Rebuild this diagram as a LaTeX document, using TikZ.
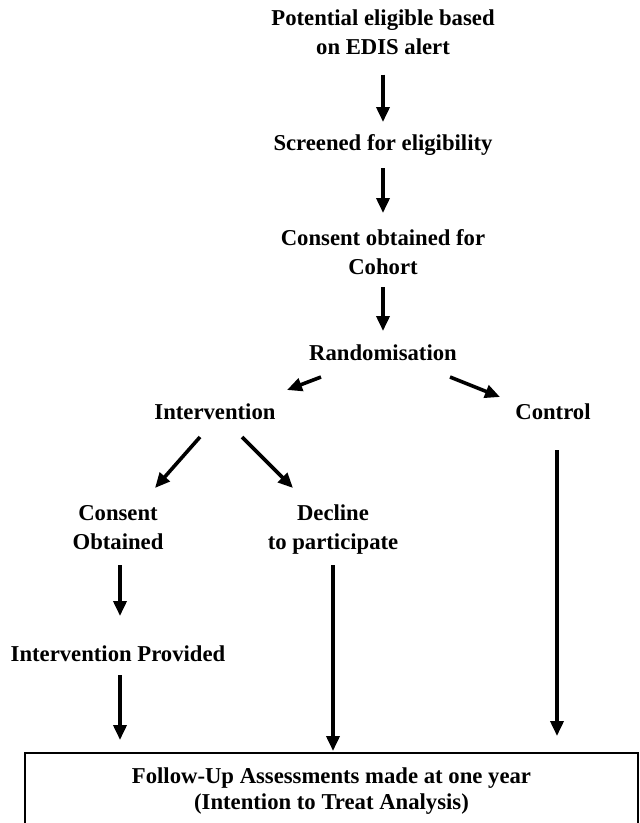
\documentclass[tikz,border=0pt]{standalone}
\usepackage{fontspec}
\setmainfont{Liberation Serif}
\usetikzlibrary{arrows.meta}
\begin{document}
\begin{tikzpicture}[x=1pt,y=-1pt,
  lbl/.style={font=\bfseries\fontsize{22.7}{29}\selectfont, align=center, inner sep=0pt},
  arr/.style={line width=3.6pt, -{Triangle[length=15pt,width=13pt]}},
  ]
\useasboundingbox (0,0) rectangle (640,823);
\fill[white] (0,0) rectangle (640,823);
\node[lbl] (n1) at (383,32.5) {Potential eligible based\\on EDIS alert};
\node[lbl] (n2) at (383,145) {Screened for eligibility};
\node[lbl] (n3) at (383,252) {Consent obtained for\\Cohort};
\node[lbl] (n4) at (383,353) {Randomisation};
\node[lbl] (n5) at (215,412) {Intervention};
\node[lbl] (n6) at (553,412) {Control};
\node[lbl] (n7) at (118,528) {Consent\\Obtained};
\node[lbl] (n8) at (333,530) {Decline\\to participate};
\node[lbl] (n9) at (118,654) {Intervention Provided};
\node[lbl, font=\bfseries\fontsize{22.7}{26}\selectfont, draw, line width=1.3pt, minimum width=613pt, minimum height=76pt] (box) at (331.5,791) {Follow-Up Assessments made at one year\\(Intention to Treat Analysis)};

\draw[arr] ([shift={(0,42)}]n1.center) -- ([shift={(0,-23)}]n2.center);
\draw[arr] ([shift={(0,23)}]n2.center) -- ([shift={(0,-39)}]n3.center);
\draw[arr] ([shift={(0,35)}]n3.center) -- ([shift={(0,-22)}]n4.center);
\draw[arr] ([shift={(-62,24)}]n4.center) -- ([shift={(72,-22)}]n5.center);
\draw[arr] ([shift={(67,24)}]n4.center) -- ([shift={(-53,-15)}]n6.center);
\draw[arr] ([shift={(-15,25)}]n5.center) -- ([shift={(37,-40)}]n7.center);
\draw[arr] ([shift={(27,25)}]n5.center) -- ([shift={(-40,-42)}]n8.center);
\draw[arr] ([shift={(2,37)}]n7.center) -- ([shift={(2,-38)}]n9.center);
\draw[arr] ([shift={(2,21)}]n9.center) -- ([shift={(-211.5,-51)}]box.center);
\draw[arr] ([shift={(0,35)}]n8.center) -- ([shift={(1.5,-40)}]box.center);
\draw[arr] ([shift={(4,38)}]n6.center) -- ([shift={(225.5,-55)}]box.center);
\end{tikzpicture}
\end{document}
